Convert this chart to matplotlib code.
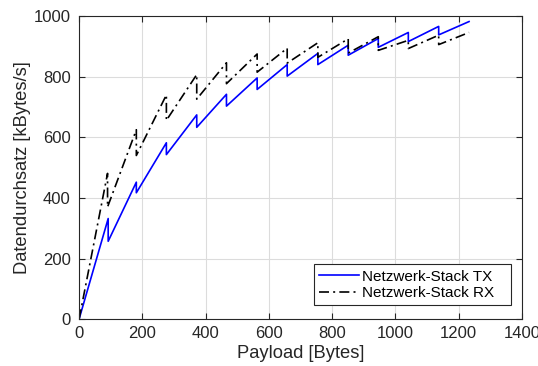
import matplotlib
matplotlib.use("Agg")
import matplotlib.pyplot as plt

# payload sizes at which the throughput jumps (each point appears twice: before/after the drop)
tx_payload = [0, 92, 92, 181, 181, 276, 276, 372, 372, 466, 466, 563, 563, 658, 658,
              755, 755, 851, 851, 946, 946, 1041, 1041, 1137, 1137, 1233]
tx_rate = [0, 332, 257, 452, 417, 582, 543, 674, 633, 742, 703, 796, 758, 840, 802,
           877, 840, 904, 871, 926, 897, 946, 916, 966, 938, 982]

rx_payload = [0, 90, 90, 181, 181, 276, 276, 372, 372, 466, 466, 563, 563, 658, 658,
              755, 755, 851, 851, 946, 946, 1041, 1041, 1137, 1137, 1233]
rx_rate = [0, 481, 370, 625, 540, 740, 656, 807, 726, 846, 777, 875, 815, 894, 845,
           912, 864, 925, 878, 932, 887, 920, 893, 937, 906, 946]

x_ticks = [0, 200, 400, 600, 800, 1000, 1200, 1400]
y_ticks = [0, 200, 400, 600, 800, 1000]

plt.rcParams['font.family'] = ['Liberation Sans', 'DejaVu Sans']
axis_color = '#262626'

fig = plt.figure(figsize=(5.38, 3.66), dpi=100)
ax = fig.add_axes([0.147, 0.128, 0.823, 0.828])

ax.plot(tx_payload, tx_rate, color='#0000ff', linewidth=1.2, label='Netzwerk-Stack TX')
ax.plot(rx_payload, rx_rate, color='black', linewidth=1.2, linestyle='-.',
        dashes=(6, 2.5, 1.2, 2.5), label='Netzwerk-Stack RX')

ax.set_xlim(0, 1400)
ax.set_ylim(0, 1000)
ax.set_xticks(x_ticks)
ax.set_yticks(y_ticks)
ax.grid(True, color='#dcdcdc', linewidth=0.8)
ax.set_axisbelow(True)
ax.tick_params(direction='in', top=True, right=True, labelsize=12,
               colors=axis_color, length=4, width=0.8)
ax.tick_params(axis='x', pad=5)
ax.tick_params(axis='y', pad=6)
for sp in ax.spines.values():
    sp.set_color(axis_color)
    sp.set_linewidth(0.8)

ax.set_xlabel('Payload [Bytes]', fontsize=13.2, color=axis_color, labelpad=3)
ax.set_ylabel('Datendurchsatz [kBytes/s]', fontsize=13.2, color=axis_color, labelpad=2)

leg = ax.legend(loc='lower left', fontsize=11, fancybox=False, framealpha=1,
                edgecolor=axis_color, borderpad=0.35, handlelength=2.6,
                handletextpad=0.2, labelspacing=0.15, mode='expand',
                bbox_to_anchor=(0.5305, 0.046, 0.4447, 0.1), borderaxespad=0)
leg.get_frame().set_linewidth(0.8)

fig.savefig('out.png', dpi=100)
